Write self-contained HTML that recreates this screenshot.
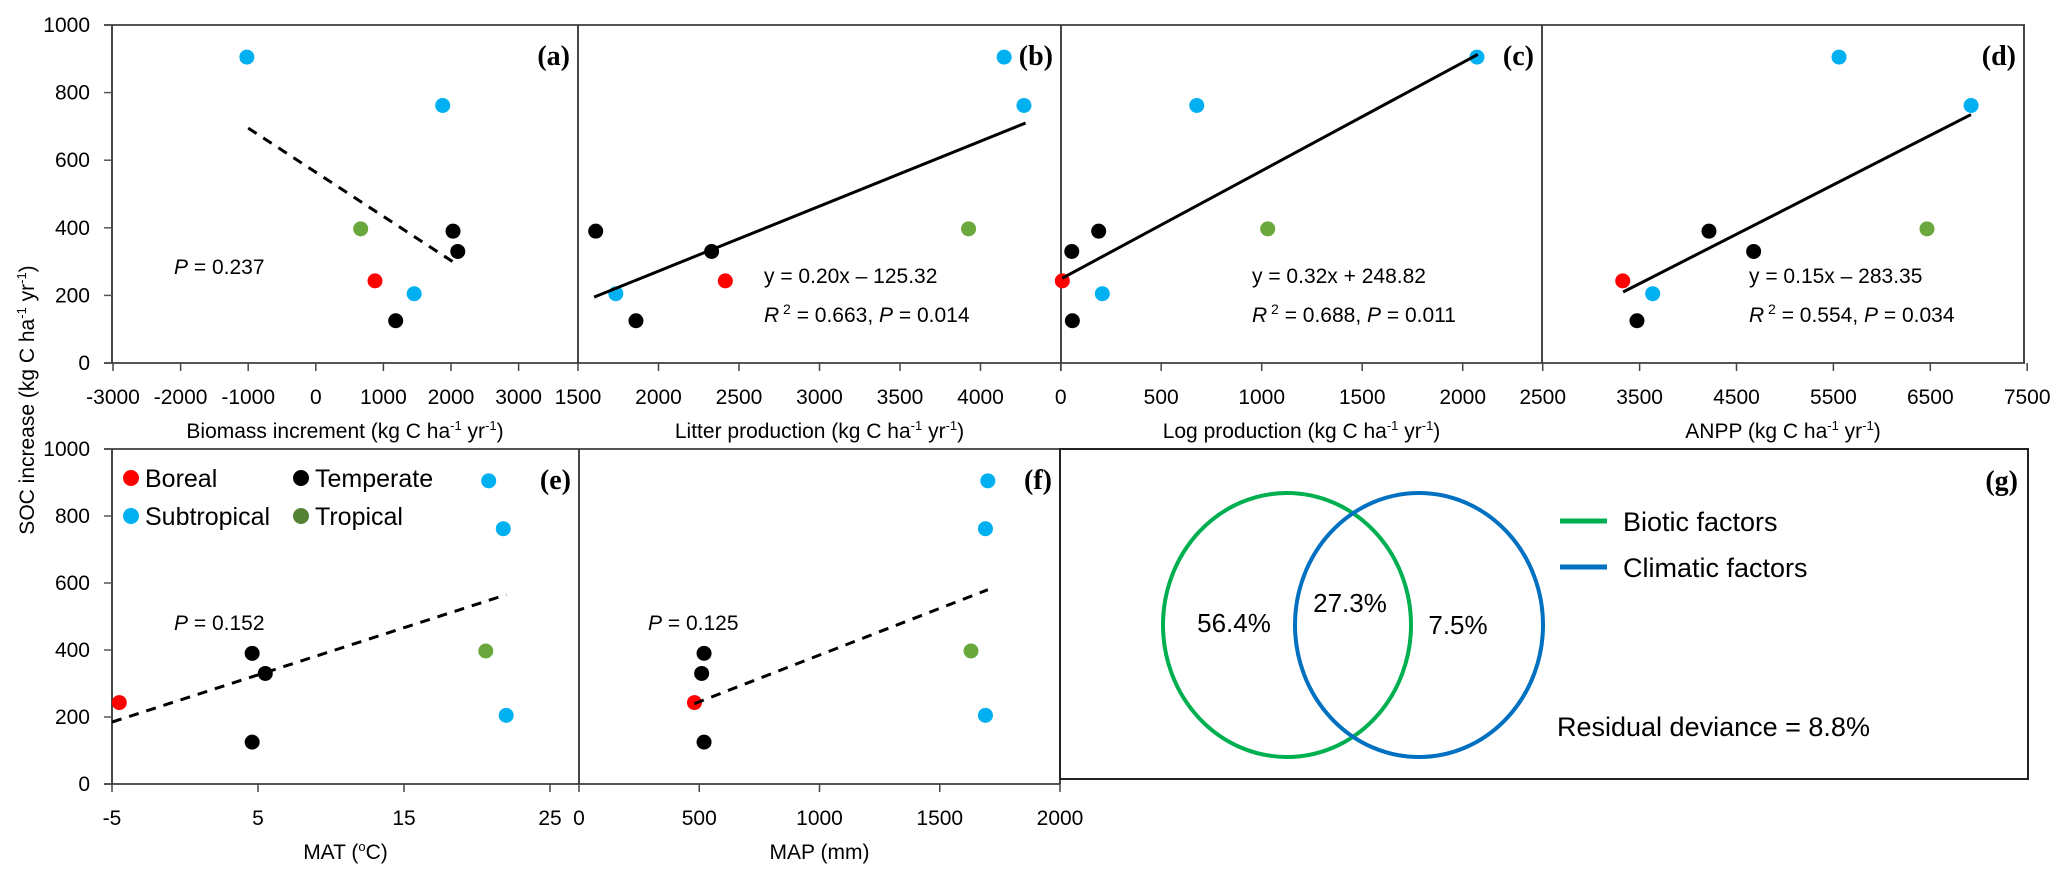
<!DOCTYPE html>
<html><head><meta charset="utf-8"><style>
html,body{margin:0;padding:0;background:#fff;}
svg{display:block;font-family:"Liberation Sans",Arial,sans-serif;}
</style></head><body>
<svg id="fig" width="2067" height="878" viewBox="0 0 2067 878" xmlns="http://www.w3.org/2000/svg"></svg>
<script>
// ---- data ----
const soc = [905, 762, 390, 397, 330, 243, 205, 125];
const zone = ['sub', 'sub', 'temp', 'trop', 'temp', 'bor', 'sub', 'temp'];
const biomass = [-1020, 1877, 2030, 664, 2100, 876, 1455, 1182];
const litter = [4147, 4270, 1610, 3926, 2330, 2415, 1735, 1860];
const logProd = [2071, 677, 189, 1030, 55, 8, 207, 58];
const anpp = [5558, 6921, 4216, 6466, 4677, 3326, 3635, 3473];
const mat = [20.8, 21.8, 4.6, 20.6, 5.5, -4.5, 22, 4.6];
const mapmm = [1700, 1690, 520, 1630, 510, 480, 1690, 520];
const trendA = [-1000, 695, 2100, 290];
const trendB = [1600, 195, 4280, 710];
const trendC = [8, 251, 2075, 913];
const trendD = [3330, 210, 6920, 735];
const trendE = [-5, 185, 22, 565];
const trendF = [480, 240, 1700, 580];
const yTicks = [0, 200, 400, 600, 800, 1000];
const ticksA = [-3000, -2000, -1000, 0, 1000, 2000, 3000];
const ticksB = [1500, 2000, 2500, 3000, 3500, 4000];
const ticksC = [0, 500, 1000, 1500, 2000];
const ticksD = [2500, 3500, 4500, 5500, 6500, 7500];
const ticksE = [-5, 5, 15, 25];
const ticksF = [0, 500, 1000, 1500, 2000];
const vennLabels = ['56.4%', '27.3%', '7.5%'];

const svg = document.getElementById('fig');
const NS = 'http://www.w3.org/2000/svg';
const colors = {bor: '#ff0000', temp: '#000000', sub: '#00b0f0', trop: '#6aa83e'};
function mk(tag, attrs, parent) {
  const e = document.createElementNS(NS, tag);
  for (const k in attrs) e.setAttribute(k, attrs[k]);
  (parent || svg).appendChild(e);
  return e;
}
function txt(x, y, s, size, anchor, parent, extra) {
  const t = mk('text', Object.assign({x: x, y: y, 'font-size': size, 'text-anchor': anchor || 'middle', fill: '#000'}, extra || {}), parent);
  t.textContent = s;
  return t;
}
const yTop = v => 363 - v * 0.338;
const yBot = v => 784 - v * 0.335;

function panel(name, x0, x1, xs, ys, baseY, xdata, trend, dashed, ticks, labelTicks, title, letter, topY) {
  const g = mk('g', {});
  
  
  ticks.forEach(t => {
    const tk = mk('line', {x1: xs(t), x2: xs(t), y1: baseY, y2: baseY + 8, stroke: '#444', 'stroke-width': 1.5}, g);
    
    
  });
  labelTicks.forEach(t => {
    const lb = txt(xs(t), baseY + 41, String(t), 21, 'middle', g);
    
    
  });
  xdata.forEach((v, i) => {
    const c = mk('circle', {cx: xs(v), cy: ys(soc[i]), r: 7.5, fill: colors[zone[i]]}, g);
    
    
  });
  const ln = mk('line', {x1: xs(trend[0]), y1: ys(trend[1]), x2: xs(trend[2]), y2: ys(trend[3]), stroke: '#000', 'stroke-width': 3, 'stroke-dasharray': dashed ? '10,8' : 'none'}, g);
  
  
  const tt = mk('text', {x: (x0 + x1) / 2, y: baseY + 75, 'font-size': 21, 'text-anchor': 'middle'}, g);
  tt.innerHTML = title;
  
  
  const lt = txt(x1 - 8, topY + 40, letter, 28, 'end', g, {'font-family': '"Liberation Serif",serif', 'font-weight': 'bold'});
  
  
}
const sup = 'ha<tspan dy="-8" font-size="13">-1</tspan><tspan dy="8"> yr</tspan><tspan dy="-8" font-size="13">-1</tspan><tspan dy="8">)</tspan>';

mk('line', {x1: 104, x2: 2025, y1: 25, y2: 25, stroke: '#555', 'stroke-width': 2});
mk('line', {x1: 104, x2: 2025, y1: 363, y2: 363, stroke: '#555', 'stroke-width': 2});
[112, 578, 1061, 1542, 2024].forEach(x => mk('line', {x1: x, x2: x, y1: 25, y2: 363, stroke: '#333', 'stroke-width': 1.8}));
mk('line', {x1: 104, x2: 1060, y1: 449, y2: 449, stroke: '#555', 'stroke-width': 2});
mk('line', {x1: 104, x2: 1060, y1: 784, y2: 784, stroke: '#555', 'stroke-width': 2});
[112, 579, 1060].forEach(x => mk('line', {x1: x, x2: x, y1: 449, y2: 784, stroke: '#333', 'stroke-width': 1.8}));
const box = mk('rect', {x: 1060, y: 449, width: 968, height: 330, fill: 'none', stroke: '#222', 'stroke-width': 2});



yTicks.forEach(v => {
  mk('line', {x1: 104, x2: 112, y1: yTop(v), y2: yTop(v), stroke: '#555', 'stroke-width': 1.5});
  mk('line', {x1: 104, x2: 112, y1: yBot(v), y2: yBot(v), stroke: '#555', 'stroke-width': 1.5});
  const a = txt(90, yTop(v) + 7, String(v), 21, 'end');
  
  
  const b = txt(90, yBot(v) + 7, String(v), 21, 'end');
  
  
});
const yt = mk('text', {x: 0, y: 0, 'font-size': 21, 'text-anchor': 'middle', transform: 'translate(34,400) rotate(-90)'});
yt.innerHTML = 'SOC increase (kg C ' + sup;



const xa = v => 113 + (v + 3000) * 0.0676;
const xb = v => 578 + (v - 1500) * 0.161;
const xc = v => 1060.7 + v * 0.201;
const xd = v => 1542.7 + (v - 2500) * 0.0969;
const xe = v => 112 + (v + 5) * 14.6;
const xf = v => 579 + v * 0.2405;

panel('a', 112, 578, xa, yTop, 363, biomass, trendA, true, ticksA, ticksA, 'Biomass increment (kg C ' + sup, '(a)', 25);
panel('b', 578, 1061, xb, yTop, 363, litter, trendB, false, ticksB.concat([4500]), ticksB, 'Litter production (kg C ' + sup, '(b)', 25);
panel('c', 1061, 1542, xc, yTop, 363, logProd, trendC, false, ticksC, ticksC, 'Log production (kg C ' + sup, '(c)', 25);
panel('d', 1542, 2024, xd, yTop, 363, anpp, trendD, false, ticksD, ticksD, 'ANPP (kg C ' + sup, '(d)', 25);
panel('e', 112, 579, xe, yBot, 784, mat, trendE, true, ticksE, ticksE, 'MAT (<tspan dy="-8" font-size="13">o</tspan><tspan dy="8">C)</tspan>', '(e)', 449);
panel('f', 579, 1060, xf, yBot, 784, mapmm, trendF, true, ticksF, ticksF, 'MAP (mm)', '(f)', 449);

function stat(x, y, html, name) {
  const t = mk('text', {x: x, y: y, 'font-size': 21});
  t.innerHTML = html;
  
  
}
stat(174, 274, '<tspan font-style="italic">P</tspan> = 0.237', 'p-value-a');
stat(764, 283, 'y = 0.20x \u2013 125.32', 'equation-b');
stat(764, 322, '<tspan font-style="italic">R</tspan><tspan dy="-8" font-size="14"> 2</tspan><tspan dy="8"> = 0.663, </tspan><tspan font-style="italic">P</tspan> = 0.014', 'r2-b');
stat(1252, 283, 'y = 0.32x + 248.82', 'equation-c');
stat(1252, 322, '<tspan font-style="italic">R</tspan><tspan dy="-8" font-size="14"> 2</tspan><tspan dy="8"> = 0.688, </tspan><tspan font-style="italic">P</tspan> = 0.011', 'r2-c');
stat(1749, 283, 'y = 0.15x \u2013 283.35', 'equation-d');
stat(1749, 322, '<tspan font-style="italic">R</tspan><tspan dy="-8" font-size="14"> 2</tspan><tspan dy="8"> = 0.554, </tspan><tspan font-style="italic">P</tspan> = 0.034', 'r2-d');
stat(174, 630, '<tspan font-style="italic">P</tspan> = 0.152', 'p-value-e');
stat(648, 630, '<tspan font-style="italic">P</tspan> = 0.125', 'p-value-f');

[['bor', 'Boreal', 131, 478], ['temp', 'Temperate', 301, 478], ['sub', 'Subtropical', 131, 516], ['trop', 'Tropical', 301, 516]].forEach(l => {
  const c = mk('circle', {cx: l[2], cy: l[3], r: 8, fill: l[0] === 'trop' ? '#548235' : colors[l[0]]});
  
  
  const t = txt(l[2] + 14, l[3] + 9, l[1], 25, 'start');
  
  
});

const e1 = mk('ellipse', {cx: 1287, cy: 625, rx: 124, ry: 132, fill: 'none', stroke: '#00b050', 'stroke-width': 4});


const e2 = mk('ellipse', {cx: 1419, cy: 625, rx: 124, ry: 132, fill: 'none', stroke: '#0070c0', 'stroke-width': 4});


[[1234, 632], [1350, 612], [1458, 634]].forEach((p, i) => {
  const t = txt(p[0], p[1], vennLabels[i], 26, 'middle');
  
  
});
const l1 = mk('line', {x1: 1560, x2: 1607, y1: 521, y2: 521, stroke: '#00b050', 'stroke-width': 5});


const l2 = mk('line', {x1: 1560, x2: 1607, y1: 567, y2: 567, stroke: '#0070c0', 'stroke-width': 5});


const t1 = txt(1623, 531, 'Biotic factors', 27, 'start');


const t2 = txt(1623, 577, 'Climatic factors', 27, 'start');


const t3 = txt(1557, 736, 'Residual deviance = 8.8%', 27, 'start');


const tg = txt(2018, 490, '(g)', 28, 'end', svg, {'font-family': '"Liberation Serif",serif', 'font-weight': 'bold'});


</script>
</body></html>
